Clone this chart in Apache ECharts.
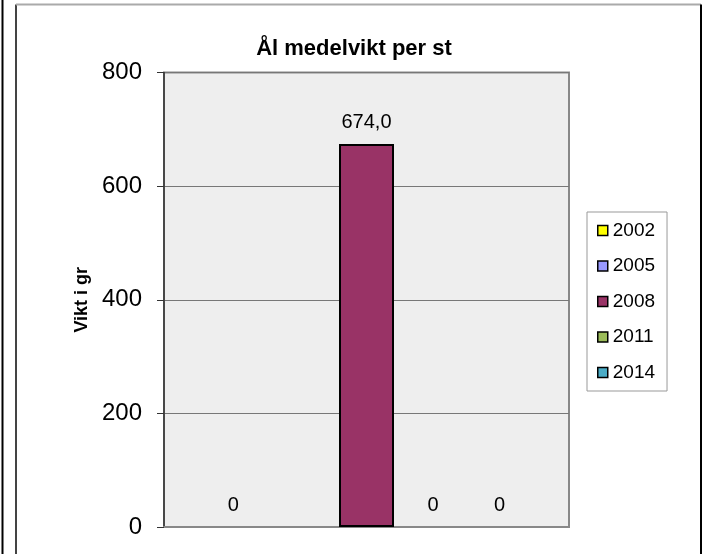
<!DOCTYPE html>
<html>
<head>
<meta charset="utf-8">
<script src="https://cdn.jsdelivr.net/npm/echarts@6/dist/echarts.min.js"></script>
<style>
  html, body { margin: 0; padding: 0; background: #fff; }
  #chart { width: 707px; height: 554px; }
</style>
</head>
<body>
<div id="chart"></div>
<script>
// data
var categories = [''];
var years = ['2002', '2005', '2008', '2011', '2014'];
var values = [0, null, 674, 0, 0];
var colors = ['#ffff00', '#9999ff', '#993366', '#9bbb59', '#4bacc6'];
var yTicks = [0, 200, 400, 600, 800];

var FONT = 'Arial, Liberation Sans';
var myChart = echarts.init(document.getElementById('chart'));

var series = years.map(function (y, i) {
  return {
    name: y,
    type: 'bar',
    data: [{
      value: values[i],
      // a zero bar shows only its label, no outline
      itemStyle: { borderWidth: values[i] ? 2 : 0 }
    }],
    barWidth: 55,
    barGap: '21%',
    itemStyle: { color: colors[i], borderColor: '#000', borderWidth: 2 },
    label: {
      show: values[i] !== null,
      position: 'top',
      distance: 12,
      fontFamily: FONT,
      fontSize: 20,
      color: '#000',
      formatter: function (p) {
        return p.value === 0 ? '0' : p.value.toFixed(1).replace('.', ',');
      }
    }
  };
});

var option = {
  animation: false,
  backgroundColor: '#fff',
  title: {
    text: 'Ål medelvikt per st',
    left: 349,
    top: 33,
    textAlign: 'center',
    textStyle: { fontFamily: FONT, fontSize: 22, fontWeight: 'bold', color: '#000' }
  },
  legend: {
    orient: 'vertical',
    left: 587,
    top: 212,
    width: 78,
    padding: [9, 12, 9, 10],
    itemWidth: 10,
    itemHeight: 10,
    itemGap: 16.5,
    itemTextGap: 3,
    borderColor: '#999',
    borderWidth: 1,
    icon: 'rect',
    data: years,
    itemStyle: { borderColor: '#000', borderWidth: 1.5 },
    textStyle: { fontFamily: FONT, fontSize: 19, color: '#000' }
  },
  grid: {
    left: 164,
    top: 72.5,
    right: 138,
    bottom: 27,
    show: true,
    backgroundColor: '#eeeeee',
    borderColor: '#888',
    borderWidth: 2
  },
  xAxis: {
    type: 'category',
    data: categories,
    axisLine: { show: true, lineStyle: { color: '#888', width: 2 } },
    axisTick: { show: false },
    axisLabel: { show: false }
  },
  yAxis: {
    type: 'value',
    min: yTicks[0],
    max: yTicks[yTicks.length - 1],
    interval: 200,
    name: 'Vikt i gr',
    nameLocation: 'middle',
    nameGap: 64,
    nameTextStyle: { fontFamily: FONT, fontSize: 18, fontWeight: 'bold', color: '#000' },
    axisLine: { show: true, lineStyle: { color: '#333', width: 1.5 } },
    axisTick: { show: true, length: 7, lineStyle: { color: '#333' } },
    axisLabel: { margin: 22, fontFamily: FONT, fontSize: 24, color: '#000' },
    splitLine: { show: true, lineStyle: { color: '#777', width: 1 } }
  },
  graphic: [
    { type: 'line', shape: { x1: 2.5, y1: 0, x2: 2.5, y2: 554 }, style: { stroke: '#000', lineWidth: 2 } },
    { type: 'line', shape: { x1: 16, y1: 4.5, x2: 16, y2: 554 }, style: { stroke: '#444', lineWidth: 2 } },
    { type: 'line', shape: { x1: 16, y1: 4.5, x2: 701, y2: 4.5 }, style: { stroke: '#aaa', lineWidth: 2 } },
    { type: 'line', shape: { x1: 701, y1: 4.5, x2: 701, y2: 554 }, style: { stroke: '#000', lineWidth: 2 } }
  ],
  series: series
};

myChart.setOption(option);
</script>
</body>
</html>
